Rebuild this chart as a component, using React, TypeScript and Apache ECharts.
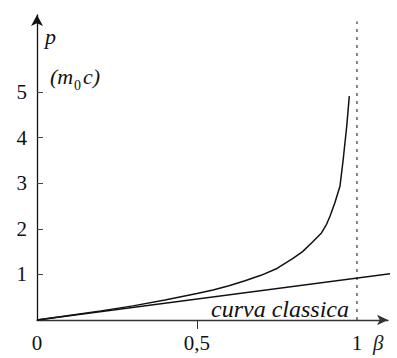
import React, { useEffect, useRef } from "react";
import * as echarts from "echarts";

const betaRel = [0, 0.1, 0.2, 0.3, 0.4, 0.5, 0.55, 0.6, 0.65, 0.7, 0.75, 0.8, 0.83, 0.858, 0.889, 0.905, 0.916, 0.931, 0.947, 0.957, 0.968, 0.976];
const pRel = [0, 0.1, 0.2, 0.31, 0.44, 0.58, 0.66, 0.75, 0.86, 0.98, 1.13, 1.35, 1.5, 1.69, 1.91, 2.1, 2.28, 2.57, 2.94, 3.52, 4.25, 4.91];
const betaClassic = [0, 1.11];
const pClassic = [0, 1.02];
const limitBeta = [1, 1];
const limitP = [0, 6.55];
const xTickValues = [0, 0.5, 1];
const xTickLabels = ["0", "0,5", "1"];
const yTickValues = [1, 2, 3, 4, 5];

const SERIF = "Liberation Serif";

export default function App() {
  const ref = useRef<HTMLDivElement>(null);
  useEffect(() => {
    if (!ref.current) return;
    document.body.style.margin = "0";
    const chart = echarts.init(ref.current, null, { renderer: "svg" });
    const zip = (a: number[], b: number[]) => a.map((v, i) => [v, b[i]]);
    chart.setOption({
      animation: false,
      backgroundColor: "#ffffff",
      grid: { left: 37, top: 15, right: 9, bottom: 38, containLabel: false },
      xAxis: {
        type: "value",
        min: 0,
        max: 1.097,
        splitLine: { show: false },
        axisLine: {
          show: true,
          lineStyle: { color: "#333", width: 1.3 },
          symbol: ["none", "arrow"],
          symbolSize: [8, 11],
        },
        axisTick: { show: true, customValues: [0.5], length: 9, inside: false, lineStyle: { color: "#333", width: 1 } },
        axisLabel: {
          customValues: xTickValues,
          formatter: (v: number) => {
            const i = xTickValues.findIndex((t) => Math.abs(t - v) < 1e-6);
            return i >= 0 ? xTickLabels[i] : "";
          },
          color: "#111",
          fontFamily: SERIF,
          fontSize: 21,
          margin: 12,
        },
      },
      yAxis: {
        type: "value",
        min: 0,
        max: 6.69,
        splitLine: { show: false },
        axisLine: {
          show: true,
          lineStyle: { color: "#111", width: 1.3 },
          symbol: ["none", "arrow"],
          symbolSize: [9, 11],
        },
        axisTick: { show: true, customValues: yTickValues, inside: true, length: 6, lineStyle: { color: "#444", width: 1 } },
        axisLabel: {
          customValues: yTickValues,
          color: "#111",
          fontFamily: SERIF,
          fontSize: 21,
          margin: 10,
        },
      },
      series: [
        {
          type: "line",
          data: zip(limitBeta, limitP),
          showSymbol: false,
          lineStyle: { color: "#333", width: 1.2, type: [3, 5] },
          z: 1,
        },
        {
          type: "line",
          data: zip(betaClassic, pClassic),
          showSymbol: false,
          lineStyle: { color: "#111", width: 1.4 },
          z: 2,
        },
        {
          type: "line",
          data: zip(betaRel, pRel),
          showSymbol: false,
          lineStyle: { color: "#111", width: 1.5 },
          z: 3,
        },
      ],
      graphic: [
        {
          type: "text",
          left: 45,
          top: 25,
          style: { text: "p", fontFamily: SERIF, fontStyle: "italic", fontSize: 22, fill: "#111" },
        },
        {
          type: "text",
          left: 50,
          top: 65,
          style: { text: "(m", fontFamily: SERIF, fontStyle: "italic", fontSize: 22, fill: "#111" },
        },
        {
          type: "text",
          left: 74,
          top: 78,
          style: { text: "0", fontFamily: SERIF, fontSize: 14, fill: "#111" },
        },
        {
          type: "text",
          left: 83,
          top: 65,
          style: { text: "c)", fontFamily: SERIF, fontStyle: "italic", fontSize: 22, fill: "#111" },
        },
        {
          type: "text",
          left: 211,
          top: 297,
          style: { text: "curva classica", fontFamily: SERIF, fontStyle: "italic", fontSize: 24, fill: "#111" },
        },
        {
          type: "text",
          left: 373,
          top: 332,
          style: { text: "β", fontFamily: SERIF, fontStyle: "italic", fontSize: 21, fill: "#222" },
        },
      ],
    });
    return () => chart.dispose();
  }, []);
  return <div ref={ref} style={{ width: 397, height: 358 }} />;
}
